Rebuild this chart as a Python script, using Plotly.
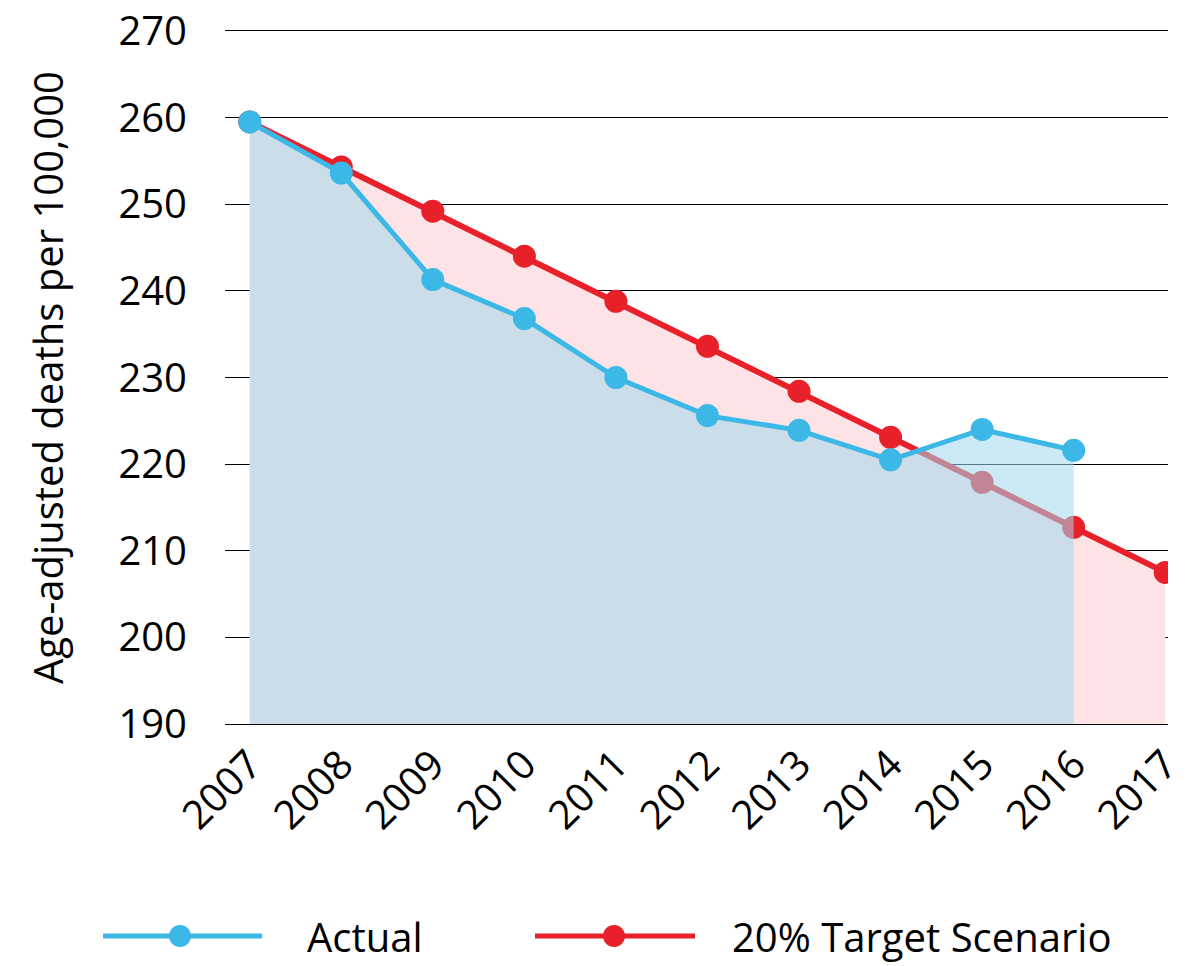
import plotly.graph_objects as go

years = [2007, 2008, 2009, 2010, 2011, 2012, 2013, 2014, 2015, 2016, 2017]
actual_years = [2007, 2008, 2009, 2010, 2011, 2012, 2013, 2014, 2015, 2016]
actual = [259.5, 253.6, 241.3, 236.8, 230.0, 225.6, 223.9, 220.5, 224.0, 221.6]
target = [259.5, 254.3, 249.2, 244.0, 238.8, 233.6, 228.4, 223.1, 217.9, 212.7, 207.5]
y_ticks = [190, 200, 210, 220, 230, 240, 250, 260, 270]

FONT = "Open Sans"
RED = "#e8202a"
BLUE = "#3bb8e6"

fig = go.Figure()
fig.add_trace(go.Scatter(
    x=years, y=target, name="20% Target Scenario", mode="lines+markers",
    line=dict(color=RED, width=6), marker=dict(color=RED, size=23),
    fill="tozeroy", fillcolor="#fde3e5", showlegend=False,
))
fig.add_trace(go.Scatter(
    x=actual_years, y=actual, name="Actual", mode="lines+markers",
    line=dict(color=BLUE, width=5), marker=dict(color=BLUE, size=23),
    fill="tozeroy", fillcolor="rgba(160,216,236,0.55)", showlegend=False,
))

fig.update_layout(
    width=1191, height=966,
    margin=dict(l=225, r=23, t=31, b=242),
    paper_bgcolor="white", plot_bgcolor="white",
    font=dict(family=FONT, color="black", size=40),
    xaxis=dict(range=[2006.73, 2017.03], tickvals=years, ticktext=[str(y) for y in years],
               tickangle=-45, showgrid=False, zeroline=False,
               showline=True, mirror=True, linecolor="black", linewidth=1,
               automargin=False, tickfont=dict(size=40)),
    yaxis=dict(range=[190, 270], tickvals=y_ticks, showgrid=True, gridcolor="black",
               gridwidth=1, zeroline=False, showline=False, tickfont=dict(size=40),
               ticklabelstandoff=37, automargin=False,
               title=dict(text="Age-adjusted deaths per 100,000", font=dict(size=40), standoff=42)),
)

def px_x(p):
    return (p - 225) / 943

def px_y(p):
    return (724 - p) / 693

ly = px_y(936)
for (x0, x1, xm, xt, col, label) in [
    (103, 262, 180, 305, BLUE, "Actual"),
    (535, 695, 614, 730, RED, "20% Target Scenario"),
]:
    fig.add_shape(type="line", xref="paper", yref="paper", x0=px_x(x0), x1=px_x(x1), y0=ly, y1=ly,
                  line=dict(color=col, width=5))
    fig.add_shape(type="circle", xref="paper", yref="paper",
                  x0=px_x(xm - 11), x1=px_x(xm + 11), y0=ly - 11 / 693, y1=ly + 11 / 693,
                  fillcolor=col, line=dict(color=col, width=0))
    fig.add_annotation(xref="paper", yref="paper", x=px_x(xt), y=ly, text=label, showarrow=False,
                       xanchor="left", yanchor="middle", font=dict(size=40, family=FONT))

fig.write_html("out.html", config={"displayModeBar": False},
               post_script="document.body.style.margin='0';")
